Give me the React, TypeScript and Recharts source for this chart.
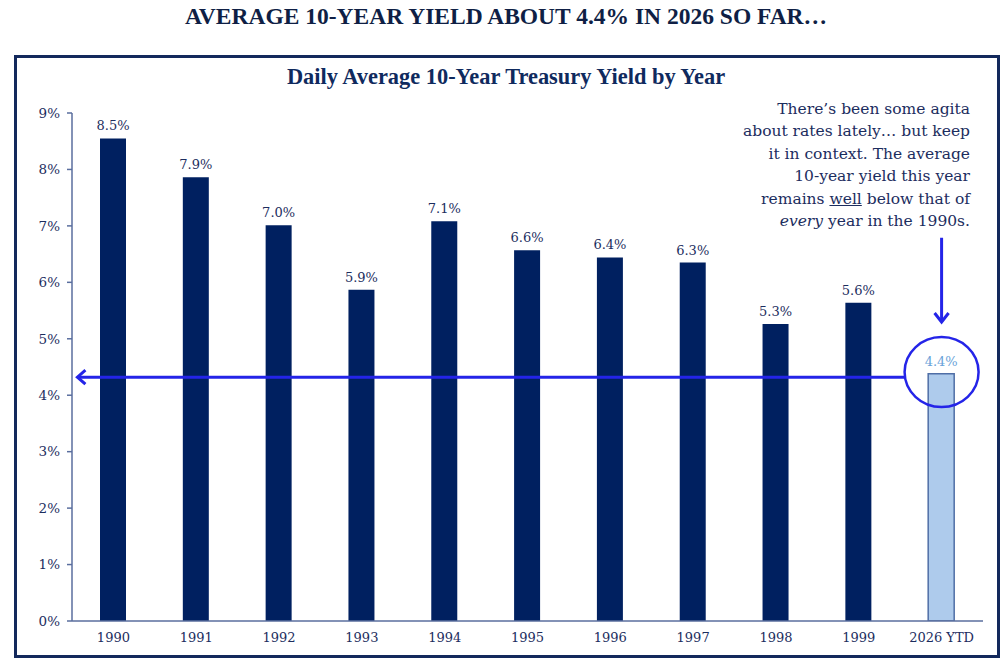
import React from 'react';
import {
  BarChart,
  Bar,
  XAxis,
  YAxis,
  Cell,
  LabelList,
  ReferenceLine,
  ReferenceDot,
} from 'recharts';

const years = ['1990', '1991', '1992', '1993', '1994', '1995', '1996', '1997', '1998', '1999', '2026 YTD'];
const yields = [8.55, 7.86, 7.01, 5.87, 7.08, 6.57, 6.44, 6.35, 5.26, 5.64, 4.38];
const yieldLabels = ['8.5%', '7.9%', '7.0%', '5.9%', '7.1%', '6.6%', '6.4%', '6.3%', '5.3%', '5.6%', '4.4%'];
const yTicks = [0, 1, 2, 3, 4, 5, 6, 7, 8, 9];

const data = years.map((year, i) => ({ year, value: yields[i], label: yieldLabels[i] }));

const NAVY = '#002060';
const TEXT = '#1c2d5e';
const BLUE = '#2424e8';
const AXIS = '#5a6e9e';
const SERIF = '"DejaVu Serif", "Liberation Serif", serif';

const ArrowLeft = (props: any) => {
  const { x1, y1, x2 } = props;
  const start = x1 - 37;
  const end = x2 - 37;
  return (
    <g>
      <line x1={start + 1} y1={y1} x2={end} y2={y1} stroke={BLUE} strokeWidth={3} />
      <polyline
        points={`${start + 9},${y1 - 7} ${start + 1},${y1} ${start + 9},${y1 + 7}`}
        fill="none"
        stroke={BLUE}
        strokeWidth={3}
      />
    </g>
  );
};

const ArrowDown = (props: any) => {
  const { x1, y1, y2 } = props;
  const top = Math.min(y1, y2);
  const bottom = Math.max(y1, y2);
  return (
    <g>
      <line x1={x1} y1={top} x2={x1} y2={bottom - 1} stroke={BLUE} strokeWidth={3} />
      <polyline
        points={`${x1 - 7},${bottom - 10} ${x1},${bottom - 1} ${x1 + 7},${bottom - 10}`}
        fill="none"
        stroke={BLUE}
        strokeWidth={3}
      />
    </g>
  );
};

const Ring = (props: any) => {
  const { cx, cy } = props;
  return <ellipse cx={cx} cy={cy} rx={37} ry={35} fill="none" stroke={BLUE} strokeWidth={2.5} />;
};

export default function App() {
  return (
    <div style={{ position: 'absolute', left: 0, top: 0, width: 1005, height: 668, background: '#fff', fontFamily: SERIF }}>
      <div
        style={{
          position: 'absolute',
          top: 3,
          left: 0,
          width: 1012,
          textAlign: 'center',
          fontFamily: '"Liberation Serif", serif',
          fontWeight: 700,
          fontSize: 23.5,
          color: '#0f1f45',
        }}
      >
        AVERAGE 10-YEAR YIELD ABOUT 4.4% IN 2026 SO FAR…
      </div>
      <div
        style={{
          position: 'absolute',
          left: 14,
          top: 55,
          width: 980,
          height: 597,
          border: '3px solid #13295c',
        }}
      />
      <div
        style={{
          position: 'absolute',
          top: 64,
          left: 0,
          width: 1012,
          textAlign: 'center',
          fontFamily: '"Liberation Serif", serif',
          fontWeight: 700,
          fontSize: 22.4,
          color: '#0f2a5e',
        }}
      >
        Daily Average 10-Year Treasury Yield by Year
      </div>
      <div style={{ position: 'absolute', left: 0, top: 0 }}>
        <BarChart
          width={1005}
          height={668}
          data={data}
          margin={{ top: 113, right: 22, bottom: 17, left: 0 }}
          barCategoryGap={0}
        >
          <XAxis
            dataKey="year"
            height={30}
            axisLine={{ stroke: AXIS, strokeWidth: 1.5 }}
            tickLine={false}
            tick={{ fill: TEXT, fontSize: 13, fontFamily: SERIF }}
            tickMargin={6}
            interval={0}
          />
          <YAxis
            width={72}
            domain={[0, 9]}
            ticks={yTicks}
            tickFormatter={(v: number) => `${v}%`}
            axisLine={{ stroke: AXIS, strokeWidth: 1.5 }}
            tickLine={{ stroke: AXIS, strokeWidth: 1.5 }}
            tickSize={5}
            tickMargin={7}
            tick={{ fill: TEXT, fontSize: 13.5, fontFamily: SERIF }}
            allowDataOverflow
          />
          <Bar dataKey="value" barSize={26} isAnimationActive={false}>
            {data.map((d, i) => (
              <Cell
                key={d.year}
                fill={i === data.length - 1 ? '#aecbec' : NAVY}
                stroke={i === data.length - 1 ? '#4f6ea6' : NAVY}
                strokeWidth={i === data.length - 1 ? 1.5 : 0}
              />
            ))}
            <LabelList
              dataKey="label"
              position="top"
              offset={8}
              content={(p: any) => {
                const last = p.index === data.length - 1;
                return (
                  <text
                    x={p.x + p.width / 2}
                    y={p.y - 8}
                    textAnchor="middle"
                    fill={last ? '#6aa3d9' : TEXT}
                    fontSize={13}
                    fontFamily={SERIF}
                  >
                    {p.value}
                  </text>
                );
              }}
            />
          </Bar>
          <ReferenceLine
            segment={[
              { x: '1990', y: 4.32 },
              { x: '2026 YTD', y: 4.32 },
            ]}
            shape={ArrowLeft}
          />
          <ReferenceLine
            segment={[
              { x: '2026 YTD', y: 6.79 },
              { x: '2026 YTD', y: 5.28 },
            ]}
            shape={ArrowDown}
          />
          <ReferenceDot x="2026 YTD" y={4.41} r={36} shape={Ring} />
        </BarChart>
      </div>
      <div
        style={{
          position: 'absolute',
          right: 35,
          top: 98,
          textAlign: 'right',
          fontSize: 15.5,
          lineHeight: '22.4px',
          color: TEXT,
          fontFamily: SERIF,
        }}
      >
        There’s been some agita
        <br />
        about rates lately… but keep
        <br />
        it in context. The average
        <br />
        10-year yield this year
        <br />
        remains <u>well</u> below that of
        <br />
        <i>every</i> year in the 1990s.
      </div>
    </div>
  );
}
